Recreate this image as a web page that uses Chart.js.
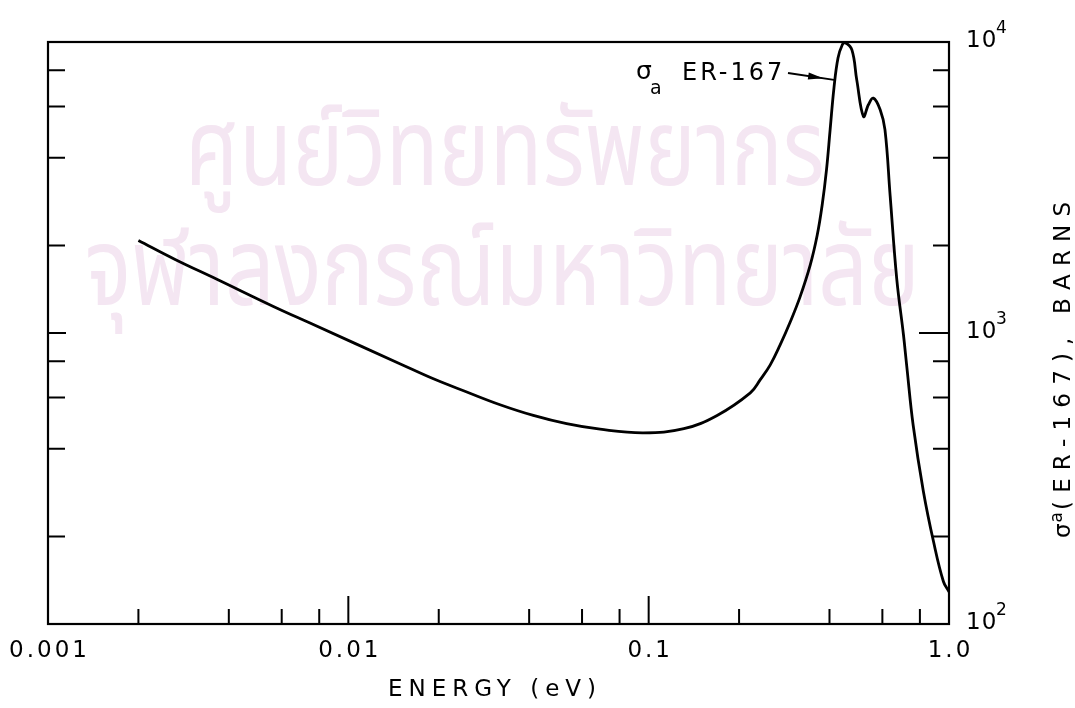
<!DOCTYPE html>
<html>
<head>
<meta charset="utf-8">
<script src="https://cdn.jsdelivr.net/npm/chart.js@4/dist/chart.umd.min.js"></script>
<style>
  html, body { margin: 0; padding: 0; background: #fff; }
  canvas { display: block; }
</style>
</head>
<body>
<canvas id="chart" width="1075" height="708"></canvas>
<script>
// absorption cross section of Er-167
const energy = [0.002, 0.00265, 0.00365, 0.00563, 0.00736, 0.0149, 0.0192, 0.0248, 0.032, 0.0413,
  0.0533, 0.0689, 0.096, 0.131, 0.169, 0.218, 0.235, 0.254, 0.274, 0.296, 0.319, 0.345, 0.364,
  0.378, 0.391, 0.402, 0.414, 0.427, 0.441, 0.451, 0.475, 0.493, 0.519, 0.539, 0.560, 0.590,
  0.612, 0.637, 0.670, 0.705, 0.723, 0.760, 0.822, 0.888, 0.958, 1.0];
const sigma = [2080, 1790, 1530, 1234, 1088, 783, 696, 627, 567, 521,
  488, 467, 454, 469, 521, 623, 690, 777, 910, 1091, 1328, 1710, 2166,
  2744, 3645, 4995, 6960, 8814, 9766, 9945, 9390, 7410, 5550, 6086, 6413, 5850,
  4997, 2953, 1531, 990, 773, 481, 285, 192, 140, 129];

// axis ticks (drawn inward, like the original)
const xMinorTicks = [0.002, 0.004, 0.006, 0.008, 0.02, 0.04, 0.06, 0.08, 0.2, 0.4, 0.6, 0.8];
const xMajorTicks = [0.01, 0.1];
const yMinorTicks = [200, 400, 600, 800, 2000, 4000, 6000, 8000];
const yMajorTicks = [1000];
const xLabelValues = [0.001, 0.01, 0.1, 1];
const xLabels = ['0.001', '0.01', '0.1', '1.0'];
const yLabelValues = [100, 1000, 10000];
const yLabelExps = ['2', '3', '4'];

// where the "σa ER-167" arrow starts and points to (data units)
const arrowFrom = { x: 0.291, y: 7830 };
const arrowTo = { x: 0.414, y: 7410 };

const FONT = '"DejaVu Sans", sans-serif';
const THAI = '"Noto Sans Thai", "Noto Sans", sans-serif';

function textWidth(ctx, text, size, ls) {
  ctx.save();
  ctx.font = size + 'px ' + FONT;
  ctx.letterSpacing = ls + 'px';
  const w = ctx.measureText(text).width - ls;
  ctx.restore();
  return w;
}

// draw text with extra letter spacing, left aligned at x
function spaced(ctx, text, x, y, size, ls) {
  ctx.save();
  ctx.font = size + 'px ' + FONT;
  ctx.letterSpacing = ls + 'px';
  ctx.textAlign = 'left';
  ctx.fillText(text, x, y);
  ctx.restore();
  return textWidth(ctx, text, size, ls);
}

function centered(ctx, text, cx, y, size, ls) {
  spaced(ctx, text, cx - textWidth(ctx, text, size, ls) / 2, y, size, ls);
}

// spacing needed to stretch a string to a given length
function spacingFor(ctx, text, size, width) {
  return (width - textWidth(ctx, text, size, 0)) / (text.length - 1);
}

// fit a line of watermark text into a given width, stretched upward a little
function fitted(ctx, text, x, y, width, stretch) {
  ctx.save();
  ctx.font = '100px ' + THAI;
  const size = 100 * width / ctx.measureText(text).width;
  ctx.font = size + 'px ' + THAI;
  ctx.translate(x, y);
  ctx.scale(1, stretch);
  ctx.fillText(text, 0, 0);
  ctx.restore();
}

const paper = {
  id: 'paper',
  beforeDraw(chart) {
    const ctx = chart.ctx;
    ctx.save();
    ctx.fillStyle = '#fff';
    ctx.fillRect(0, 0, chart.width, chart.height);
    // faint library watermark behind the plot
    ctx.fillStyle = 'rgb(244, 230, 242)';
    ctx.textBaseline = 'middle';
    fitted(ctx, 'ศูนย์วิทยทรัพยากร', 185, 163, 640, 1.25);
    fitted(ctx, 'จุฬาลงกรณ์มหาวิทยาลัย', 85, 283, 835, 1.25);
    ctx.restore();
  },
  afterDraw(chart) {
    const ctx = chart.ctx;
    const { left, right, top, bottom } = chart.chartArea;
    const xs = chart.scales.x, ys = chart.scales.y;
    ctx.save();
    ctx.strokeStyle = '#000';
    ctx.fillStyle = '#000';
    ctx.lineWidth = 2.2;
    ctx.strokeRect(left, top, right - left, bottom - top);

    ctx.lineWidth = 2;
    ctx.beginPath();
    const tickX = (vals, len) => vals.forEach(v => {
      const p = xs.getPixelForValue(v);
      ctx.moveTo(p, bottom); ctx.lineTo(p, bottom - len);
    });
    tickX(xMinorTicks, 15);
    tickX(xMajorTicks, 28);
    yMinorTicks.forEach(v => {
      const p = ys.getPixelForValue(v);
      ctx.moveTo(left, p); ctx.lineTo(left + 17, p);
      ctx.moveTo(right, p); ctx.lineTo(right - 16, p);
    });
    yMajorTicks.forEach(v => {
      const p = ys.getPixelForValue(v);
      ctx.moveTo(left, p); ctx.lineTo(left + 18, p);
      ctx.moveTo(right, p); ctx.lineTo(right - 30, p);
    });
    ctx.stroke();

    // tick labels
    ctx.textBaseline = 'middle';
    xLabelValues.forEach((v, i) => centered(ctx, xLabels[i], xs.getPixelForValue(v), 651, 23, 3));
    yLabelValues.forEach((v, i) => {
      const p = ys.getPixelForValue(v);
      spaced(ctx, '10', 966, p - 1, 23, 1);
      spaced(ctx, yLabelExps[i], 996, p - 13, 17, 0);
    });

    // x axis title
    const xt = 'ENERGY (eV)';
    spaced(ctx, xt, 388, 690, 23, spacingFor(ctx, xt, 23, 208));

    // curve annotation with arrow
    ctx.textBaseline = 'alphabetic';
    spaced(ctx, 'σ', 636, 79, 25, 0);
    spaced(ctx, 'a', 650, 94, 19, 0);
    spaced(ctx, 'ER-167', 682, 80, 24, 3);
    const ax = xs.getPixelForValue(arrowFrom.x), ay = ys.getPixelForValue(arrowFrom.y);
    const bx = xs.getPixelForValue(arrowTo.x), by = ys.getPixelForValue(arrowTo.y);
    ctx.lineWidth = 2;
    ctx.beginPath();
    ctx.moveTo(ax, ay); ctx.lineTo(bx, by);
    ctx.stroke();
    const ang = Math.atan2(by - ay, bx - ax);
    const hx = bx - 11 * Math.cos(ang), hy = by - 11 * Math.sin(ang);
    ctx.beginPath();
    ctx.moveTo(hx, hy);
    ctx.lineTo(hx - 15 * Math.cos(ang) - 3.5 * Math.sin(ang), hy - 15 * Math.sin(ang) + 3.5 * Math.cos(ang));
    ctx.lineTo(hx - 15 * Math.cos(ang) + 3.5 * Math.sin(ang), hy - 15 * Math.sin(ang) - 3.5 * Math.cos(ang));
    ctx.closePath();
    ctx.fill();

    // right-hand axis title, reading upward
    ctx.translate(1070, 538);
    ctx.rotate(-Math.PI / 2);
    let w = spaced(ctx, 'σ', 0, 0, 23, 0);
    w += spaced(ctx, 'a', w + 1, -8, 17, 0) + 3;
    const yt = '(ER-167), BARNS';
    spaced(ctx, yt, w, 0, 23, spacingFor(ctx, yt, 23, 336 - w));
    ctx.restore();
  }
};

new Chart(document.getElementById('chart').getContext('2d'), {
  type: 'line',
  data: {
    datasets: [{
      data: energy.map((e, i) => ({ x: e, y: sigma[i] })),
      borderColor: '#000',
      borderWidth: 2.8,
      pointRadius: 0,
      tension: 0.4,
      fill: false
    }]
  },
  options: {
    responsive: false,
    animation: false,
    devicePixelRatio: 1,
    layout: { padding: { left: 48, top: 42, right: 126, bottom: 84 } },
    plugins: { legend: { display: false }, tooltip: { enabled: false } },
    scales: {
      x: { type: 'logarithmic', min: 0.001, max: 1, display: false },
      y: { type: 'logarithmic', min: 100, max: 10000, display: false }
    }
  },
  plugins: [paper]
});
</script>
</body>
</html>
